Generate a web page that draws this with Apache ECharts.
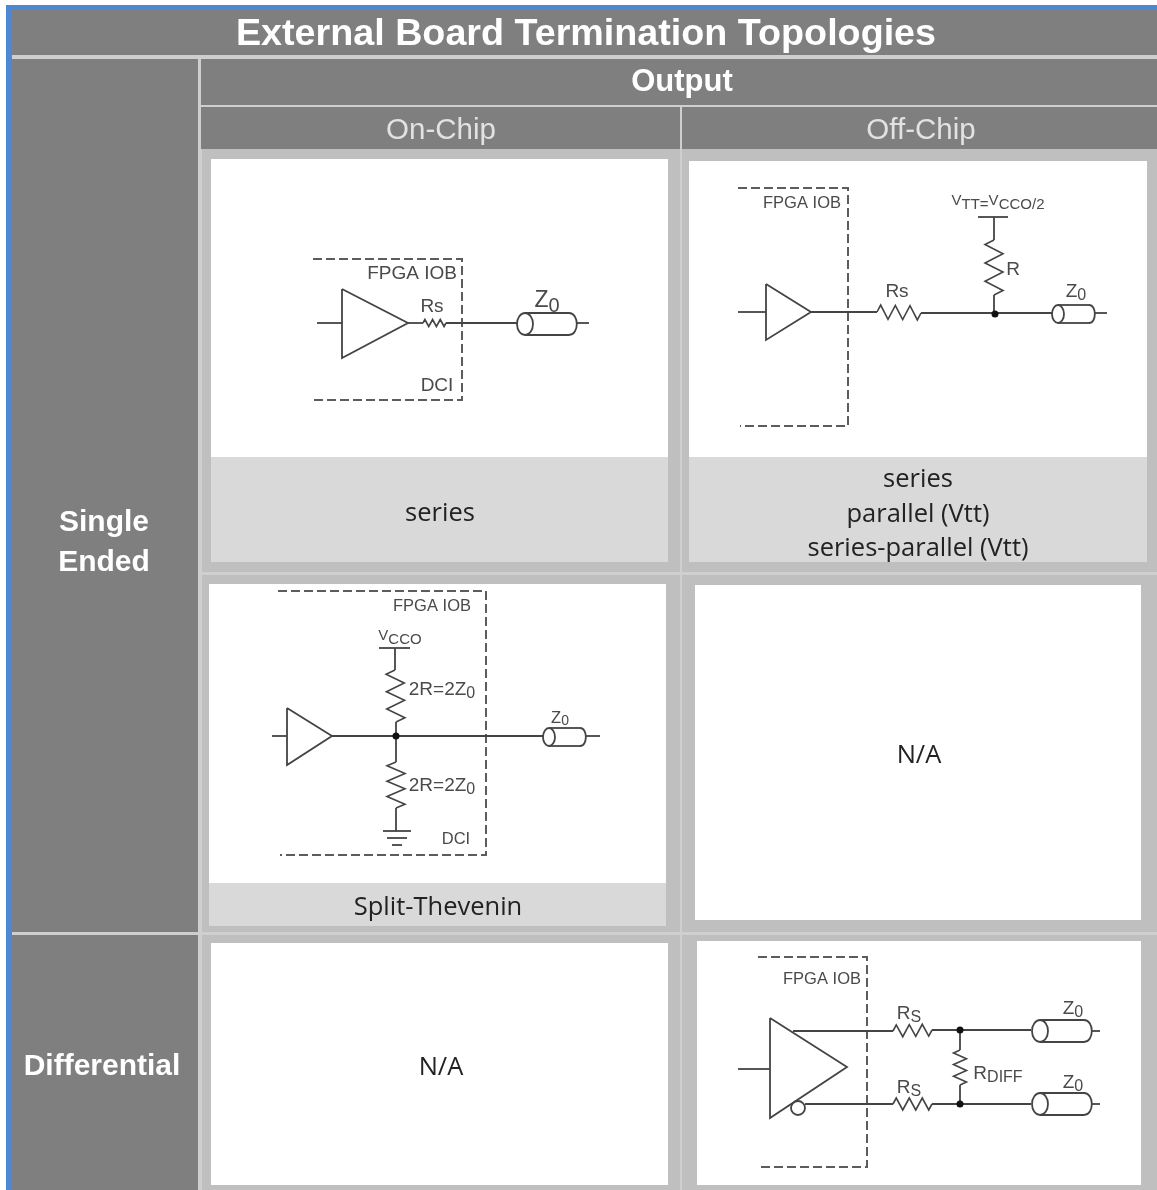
<!DOCTYPE html>
<html>
<head>
<meta charset="utf-8">
<title>External Board Termination Topologies</title>
<script src="https://cdn.jsdelivr.net/npm/echarts@6/dist/echarts.min.js"></script>
<style>
  html, body { margin: 0; padding: 0; background: #fff; }
  #chart { width: 1157px; height: 1190px; }
</style>
</head>
<body>
<div id="chart"></div>
<script>

// table blocks [x0, y0, x1, y1]
const frameBlocks = [[6, 5, 1157, 9], [6, 5, 12, 1190]];
const dividerBlocks = [[12, 9, 1157, 1190]];
const headerBlocks = [
  [12, 9, 1157, 55], [12, 59, 198, 932], [12, 935, 198, 1190],
  [201, 59, 1157, 105], [201, 107, 680, 149], [682, 107, 1157, 149]
];
const panelBlocks = [
  [202, 149, 680, 572], [682, 149, 1157, 572],
  [202, 575, 680, 932], [682, 575, 1157, 932],
  [202, 935, 680, 1190], [682, 935, 1157, 1190]
];
const captionBlocks = [[211, 457, 668, 562], [689, 457, 1147, 562], [209, 883, 666, 926]];
const whiteBlocks = [
  [211, 159, 668, 457], [689, 161, 1147, 457],
  [209, 584, 666, 883], [695, 585, 1141, 920],
  [211, 943, 668, 1185], [697, 941, 1141, 1185]
];

// dashed FPGA IOB outlines
const ioDashed = [
  [[313, 259], [462, 259], [462, 400], [313, 400]],
  [[738, 188], [848, 188], [848, 426], [740, 426]],
  [[278, 591], [486, 591], [486, 855], [280, 855]],
  [[758, 957], [867, 957], [867, 1167], [760, 1167]]
];

// wires and driver triangles
const wires = [
  [[317, 323], [342, 323]],
  [[342, 289], [408, 323], [342, 358], [342, 289]],
  [[408, 323], [423, 323]],
  [[446, 323], [517, 323]],
  [[577, 323], [589, 323]],

  [[738, 312], [766, 312]],
  [[766, 284], [811, 312], [766, 340], [766, 284]],
  [[811, 312], [877, 312]],
  [[921, 313], [1052, 313]],
  [[978, 217], [1008, 217]],
  [[994, 217], [994, 240]],
  [[994, 295], [994, 314]],
  [[1095, 313], [1107, 313]],

  [[272, 736], [287, 736]],
  [[287, 708], [332, 736], [287, 765], [287, 708]],
  [[332, 736], [543, 736]],
  [[379, 648], [410, 648]],
  [[395, 648], [395, 670]],
  [[396, 722], [396, 762]],
  [[396, 808], [396, 831]],
  [[383, 831], [411, 831]],
  [[387, 838], [407, 838]],
  [[392, 845], [402, 845]],
  [[586, 736], [600, 736]],

  [[738, 1069], [770, 1069]],
  [[770, 1018], [847, 1067], [770, 1118], [770, 1018]],
  [[793, 1031], [893, 1031]],
  [[932, 1030], [1031, 1030]],
  [[805, 1104], [893, 1104]],
  [[932, 1104], [1031, 1104]],
  [[960, 1030], [960, 1050]],
  [[960, 1085], [960, 1104]],
  [[1092, 1031], [1100, 1031]],
  [[1092, 1104], [1100, 1104]]
];

// resistors [x0, y0, x1, y1, half waves, swing]
const resistors = [
  [423, 323, 446, 323, 6, 3.5],
  [877, 312, 921, 313, 6, 7],
  [994, 240, 994, 295, 6, 9],
  [395, 670, 396, 722, 6, 9],
  [396, 762, 396, 808, 6, 9],
  [893, 1031, 932, 1030, 6, 6],
  [893, 1104, 932, 1104, 6, 6],
  [960, 1050, 960, 1085, 6, 6.5]
];

// cables [cx, cy, rx, ry, cap end x]
const cables = [
  [525, 324, 8, 11, 577],
  [1058, 314, 6, 9, 1095],
  [549, 737, 6, 9, 586],
  [1040, 1031, 8, 11, 1092],
  [1040, 1104, 8, 11, 1092]
];

// junction dots and the inverting bubble
const junctionDots = [[995, 314], [396, 736], [960, 1030], [960, 1104]];
const bubbles = [[798, 1108, 7]];

// text [string, x, y]
const titleLabels = [['External Board Termination Topologies', 586, 35]];
const outputLabels = [['Output', 682, 82]];
const chipLabels = [['On-Chip', 441, 131], ['Off-Chip', 921, 131]];
const rowLabels = [['Single', 104, 523], ['Ended', 104, 563], ['Differential', 102, 1067]];
const captionLabels = [
  ['series', 440, 514],
  ['series', 918, 480],
  ['parallel (Vtt)', 918, 515],
  ['series-parallel (Vtt)', 918, 549],
  ['Split-Thevenin', 438, 908],
  ['N/A', 919, 756],
  ['N/A', 441, 1068]
];
const largeCircuitLabels = [
  ['FPGA IOB', 412, 274], ['Rs', 432, 307], ['DCI', 437, 386],
  ['Rs', 897, 292], ['R', 1013, 270],
  ['2R=2Z{sub|0}', 442, 690], ['2R=2Z{sub|0}', 442, 786],
  ['R{sub|S}', 909, 1014], ['R{sub|S}', 909, 1088], ['R{sub|DIFF}', 998, 1074],
  ['Z{sub|0}', 1076, 292], ['Z{sub|0}', 1073, 1009], ['Z{sub|0}', 1073, 1083]
];
const bigCableLabels = [['Z{sub|0}', 547, 301]];
const midCircuitLabels = [
  ['FPGA IOB', 802, 203], ['FPGA IOB', 432, 606], ['FPGA IOB', 822, 979],
  ['DCI', 456, 839], ['Z{sub|0}', 560, 718]
];
const smallCircuitLabels = [
  ['V{sub|TT=}V{sub|CCO/2}', 998, 201],
  ['V{sub|CCO}', 400, 636]
];

const WIRE = '#444444';
const INK = '#4a4a4a';
const SANS = '"Liberation Sans", Arial, sans-serif';

const blockSeries = (blocks, color) => ({
  type: 'custom',
  silent: true,
  clip: false,
  data: blocks,
  encode: { x: [0, 2], y: [1, 3] },
  renderItem: (params, api) => {
    const a = api.coord([api.value(0), api.value(1)]);
    const b = api.coord([api.value(2), api.value(3)]);
    return {
      type: 'rect',
      shape: { x: a[0], y: a[1], width: b[0] - a[0], height: b[1] - a[1] },
      style: { fill: color }
    };
  }
});

const pathSeries = (paths, stroke, lineWidth, lineDash) => ({
  type: 'custom',
  silent: true,
  clip: false,
  data: paths.map((p, i) => [p[0][0], p[0][1], i]),
  renderItem: (params, api) => ({
    type: 'polyline',
    shape: { points: paths[api.value(2)].map(p => api.coord(p)) },
    style: { fill: 'none', stroke, lineWidth, lineDash: lineDash || null, lineJoin: 'miter' }
  })
});

// resistor zigzag between its two end points
const zigzag = ([x0, y0, x1, y1, n, swing]) => {
  const pts = [[x0, y0]];
  const horizontal = Math.abs(x1 - x0) > Math.abs(y1 - y0);
  for (let i = 0; i < n; i++) {
    const t = (i + 0.5) / n;
    const off = (i % 2 === 0 ? -swing : swing);
    pts.push([
      x0 + (x1 - x0) * t + (horizontal ? 0 : off),
      y0 + (y1 - y0) * t + (horizontal ? off : 0)
    ]);
  }
  pts.push([x1, y1]);
  return pts;
};

const cableSeries = () => ({
  type: 'custom',
  silent: true,
  clip: false,
  data: cables,
  renderItem: (params, api) => {
    const [cx, cy] = api.coord([api.value(0), api.value(1)]);
    const rx = api.value(2);
    const ry = api.value(3);
    const endX = api.coord([api.value(4), api.value(1)])[0];
    const bodyEnd = endX - rx;
    const style = { fill: 'none', stroke: WIRE, lineWidth: 1.8 };
    return {
      type: 'group',
      children: [
        { type: 'ellipse', shape: { cx, cy, rx, ry }, style: { fill: '#fff', stroke: WIRE, lineWidth: 1.8 } },
        { type: 'line', shape: { x1: cx, y1: cy - ry, x2: bodyEnd, y2: cy - ry }, style },
        { type: 'line', shape: { x1: cx, y1: cy + ry, x2: bodyEnd, y2: cy + ry }, style },
        {
          type: 'bezierCurve',
          shape: {
            x1: bodyEnd, y1: cy - ry, x2: bodyEnd, y2: cy + ry,
            cpx1: endX + rx * 0.3, cpy1: cy - ry, cpx2: endX + rx * 0.3, cpy2: cy + ry
          },
          style
        }
      ]
    };
  }
});

const circleSeries = (items, fill, stroke, defaultR) => ({
  type: 'custom',
  silent: true,
  clip: false,
  data: items,
  renderItem: (params, api) => {
    const p = api.coord([api.value(0), api.value(1)]);
    return {
      type: 'circle',
      shape: { cx: p[0], cy: p[1], r: api.value(2) || defaultR },
      style: { fill, stroke: stroke || 'none', lineWidth: 1.8 }
    };
  }
});

const textSeries = (labels, style) => ({
  type: 'custom',
  silent: true,
  clip: false,
  data: labels.map((l, i) => [l[1], l[2], i]),
  renderItem: (params, api) => {
    const l = labels[api.value(2)];
    const p = api.coord([l[1], l[2]]);
    return {
      type: 'text',
      x: p[0],
      y: p[1],
      style: Object.assign({ text: l[0], align: 'center', verticalAlign: 'middle' }, style)
    };
  }
});

// circuit text, subscripts a bit smaller and dropped below the line
const circuitStyle = (size, subSize, drop) => ({
  fill: INK,
  font: size + 'px ' + SANS,
  rich: { sub: { fontSize: subSize, fontFamily: 'Liberation Sans', fill: INK, padding: [drop, 0, 0, 0] } }
});

const option = {
  animation: false,
  backgroundColor: '#fff',
  grid: { left: 0, right: 0, top: 0, bottom: 0 },
  xAxis: { type: 'value', min: 0, max: 1157, show: false },
  yAxis: { type: 'value', min: 0, max: 1190, inverse: true, show: false },
  series: [
    blockSeries(frameBlocks, '#4f88d2'),
    blockSeries(dividerBlocks, '#cfcfcf'),
    blockSeries(headerBlocks, '#7f7f7f'),
    blockSeries(panelBlocks, '#bfbfbf'),
    blockSeries(whiteBlocks, '#ffffff'),
    blockSeries(captionBlocks, '#d9d9d9'),
    pathSeries(ioDashed, '#5c5c5c', 2, [9, 4]),
    pathSeries(wires, WIRE, 1.8),
    pathSeries(resistors.map(zigzag), WIRE, 1.6),
    cableSeries(),
    circleSeries(junctionDots, '#111111', null, 3.5),
    circleSeries(bubbles, '#ffffff', WIRE, 7),
    textSeries(titleLabels, { fill: '#fff', font: 'bold 37.7px ' + SANS }),
    textSeries(outputLabels, { fill: '#fff', font: 'bold 31px ' + SANS }),
    textSeries(chipLabels, { fill: '#e2e2e2', font: '29.5px ' + SANS }),
    textSeries(rowLabels, { fill: '#fff', font: 'bold 30px ' + SANS }),
    textSeries(captionLabels, { fill: '#222', font: '25.5px "Open Sans", "Noto Sans", sans-serif' }),
    textSeries(largeCircuitLabels, circuitStyle(19, 16, 8)),
    textSeries(bigCableLabels, circuitStyle(23, 20, 10)),
    textSeries(midCircuitLabels, circuitStyle(16.5, 14, 7)),
    textSeries(smallCircuitLabels, circuitStyle(15, 15, 8))
  ]
};

const myChart = echarts.init(document.getElementById('chart'));
myChart.setOption(option);
</script>
</body>
</html>
